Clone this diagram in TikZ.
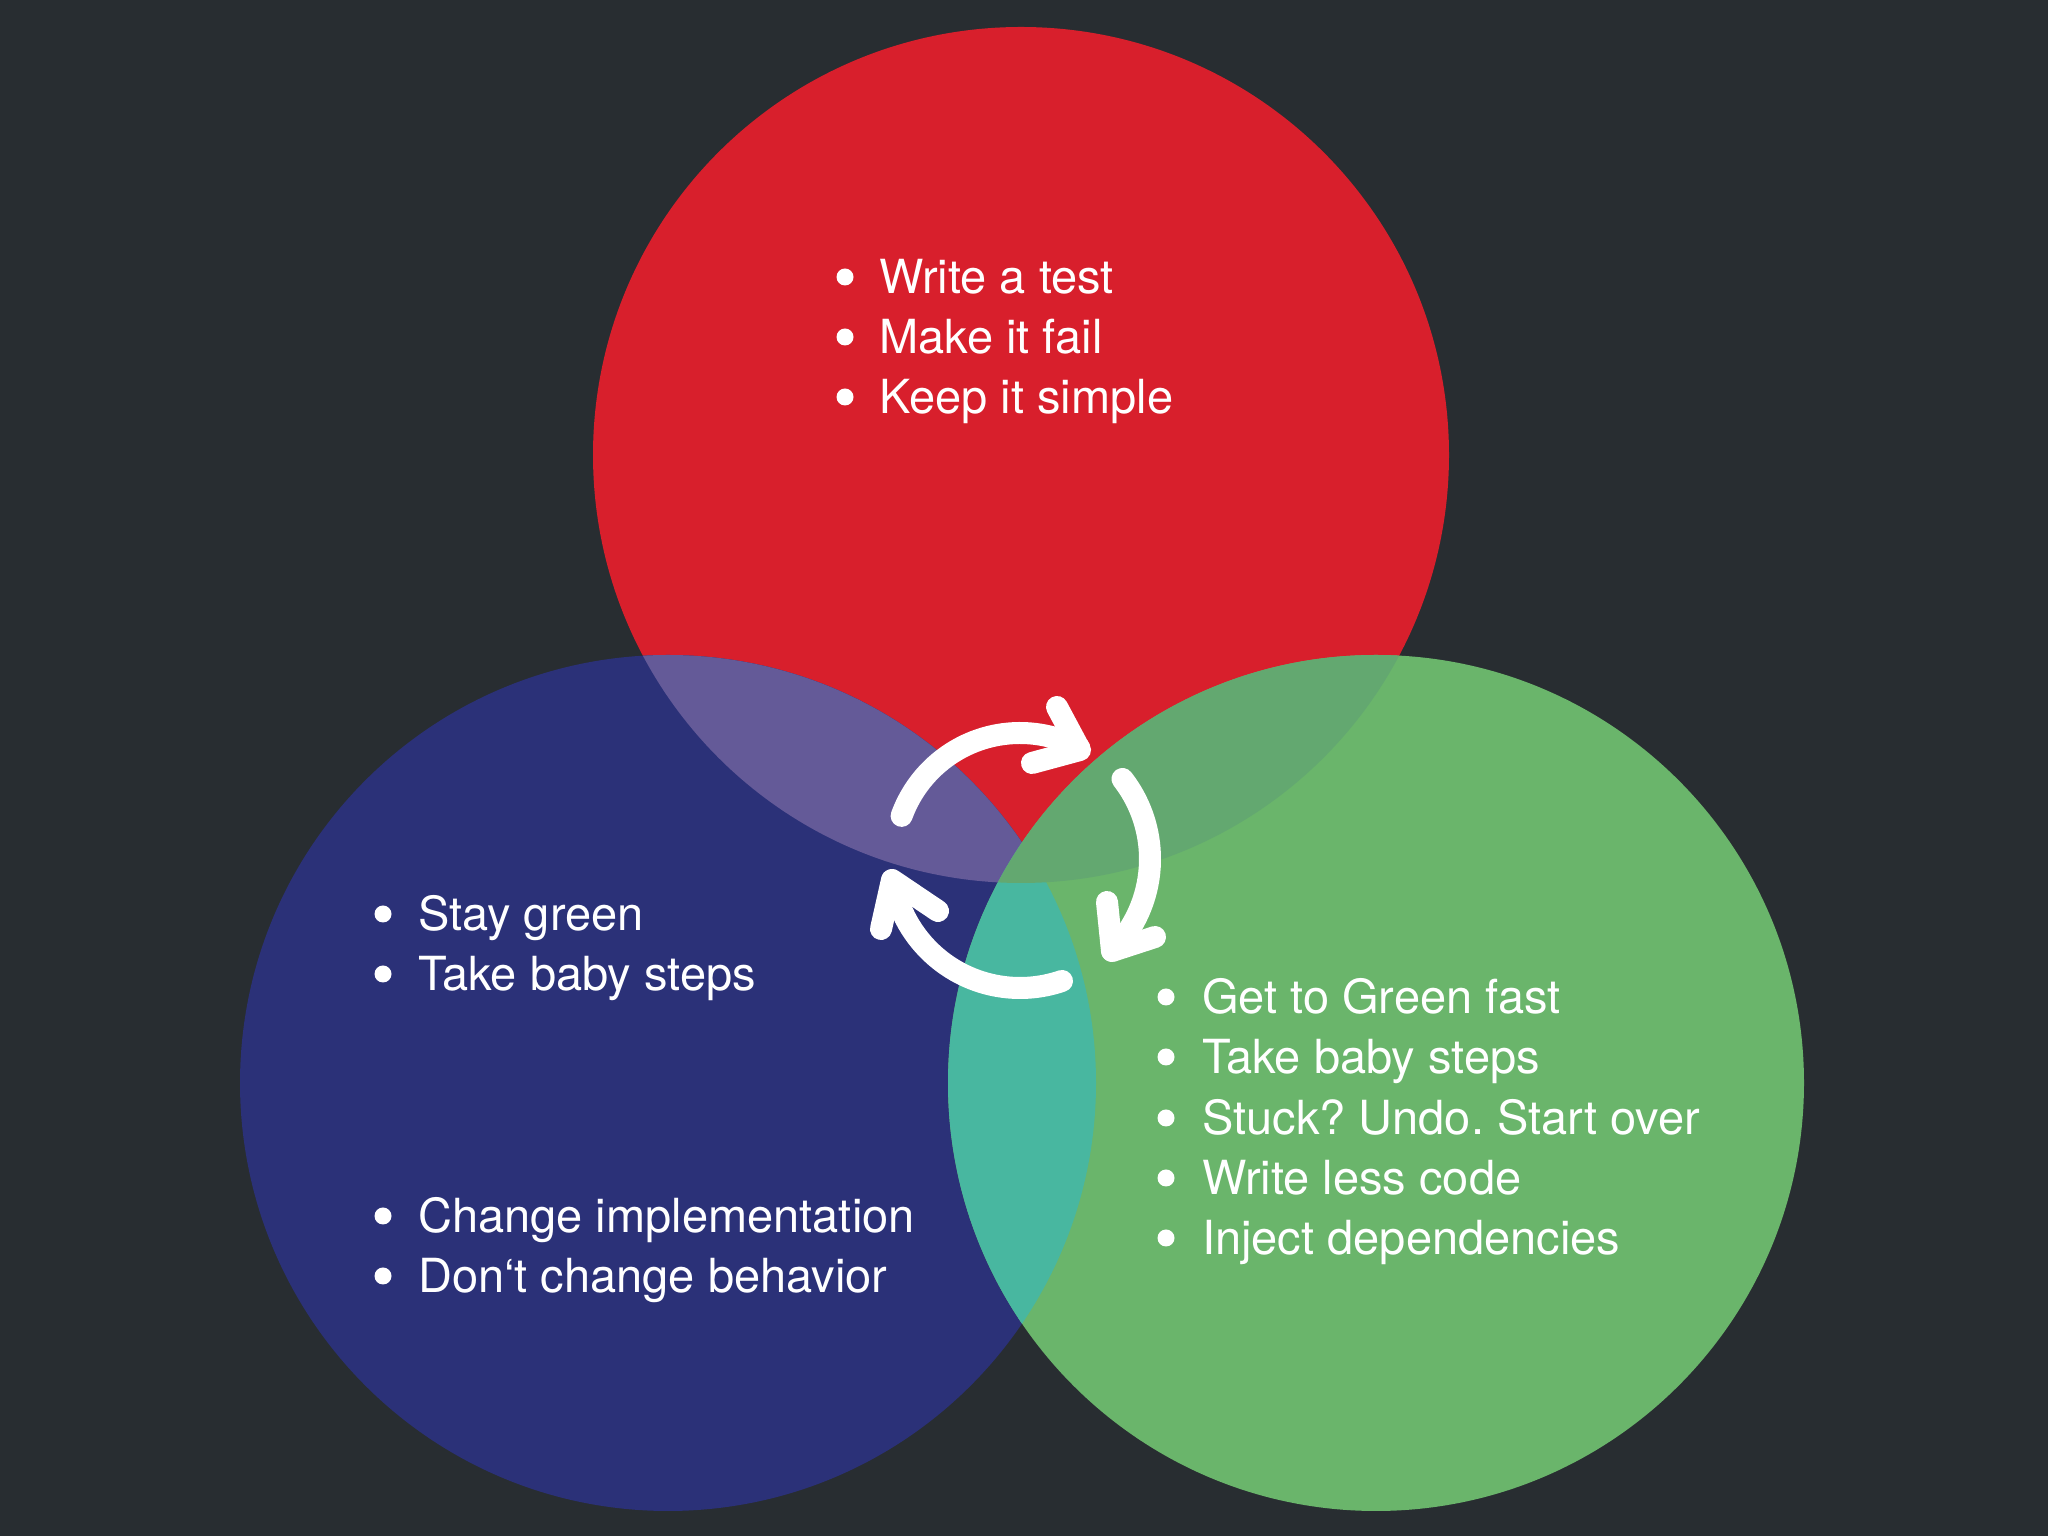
\documentclass[tikz,border=0pt]{standalone}
\usepackage{fontspec}
\setmainfont{TeX Gyre Heros}
\usetikzlibrary{calc}
\frenchspacing
\definecolor{bg}{HTML}{282D31}
\definecolor{redc}{HTML}{D81F2C}
\definecolor{bluec}{HTML}{2B3178}
\definecolor{greenc}{HTML}{6AB56B}
\definecolor{purplec}{HTML}{645A98}
\definecolor{tealc}{HTML}{48B7A0}
\definecolor{rgc}{HTML}{63A870}
\begin{document}
\begin{tikzpicture}[x=1pt,y=1pt,
  itm/.style={anchor=base west, inner sep=0pt, text=white, font=\fontsize{47}{56}\selectfont},
  bul/.style={fill=white},
  cyc/.style={draw=white, line width=22pt, line cap=round, line join=round}]
\useasboundingbox (0,0) rectangle (2048,1536);
\fill[bg] (0,0) rectangle (2048,1536);
\coordinate (R) at (1021,1081);
\coordinate (B) at (668,453);
\coordinate (G) at (1376,453);
\def\rad{428}
% circles
\fill[redc] (R) circle[radius=\rad];
\fill[bluec] (B) circle[radius=\rad];
\fill[greenc] (G) circle[radius=\rad];
\begin{scope}\clip (R) circle[radius=\rad]; \fill[purplec] (B) circle[radius=\rad]; \end{scope}
\begin{scope}\clip (B) circle[radius=\rad]; \fill[tealc] (G) circle[radius=\rad]; \end{scope}
\begin{scope}\clip (R) circle[radius=\rad]; \fill[rgc] (G) circle[radius=\rad]; \end{scope}
% red texts
\node[itm] (r1) at (879,1242) {Write a test};
\node[itm] (r2) at (879,1182) {Make it fail};
\node[itm] (r3) at (879,1122) {Keep it simple};
\foreach \y in {1259,1199,1139} \fill[bul] (845,\y) circle[radius=8.5];
% blue texts
\node[itm] (b1) at (418,605) {Stay green};
\node[itm] (b2) at (418,545) {Take baby steps};
\node[itm] (b3) at (418,303) {Change implementation};
\node[itm] (b4) at (418,243) {Don‘t change behavior};
\foreach \y in {622,562,320,260} \fill[bul] (383,\y) circle[radius=8.5];
% green texts
\node[itm] (g1) at (1202,522) {Get to Green fast};
\node[itm] (g2) at (1202,462) {Take baby steps};
\node[itm] (g3) at (1202,401) {Stuck? Undo. Start over};
\node[itm] (g4) at (1202,341) {Write less code};
\node[itm] (g5) at (1202,281) {Inject dependencies};
\foreach \y in {539,479,418,358,298} \fill[bul] (1166,\y) circle[radius=8.5];
% cycle arrows
\coordinate (O) at (1020,677);
\draw[cyc] ($(O)+(160:126)$) arc[start angle=160, end angle=62, radius=126];
\draw[cyc] (1057,829) -- (1080,786) -- (1032,773);
\draw[cyc] ($(O)+(38:130)$) arc[start angle=38, end angle=-45, radius=130];
\draw[cyc] (1107,634) -- (1112,585) -- (1155,599);
\draw[cyc] ($(O)+(-71:129)$) arc[start angle=-71, end angle=-170, radius=129];
\draw[cyc] (881,607) -- (892,656) -- (938,625);
\end{tikzpicture}
\end{document}
